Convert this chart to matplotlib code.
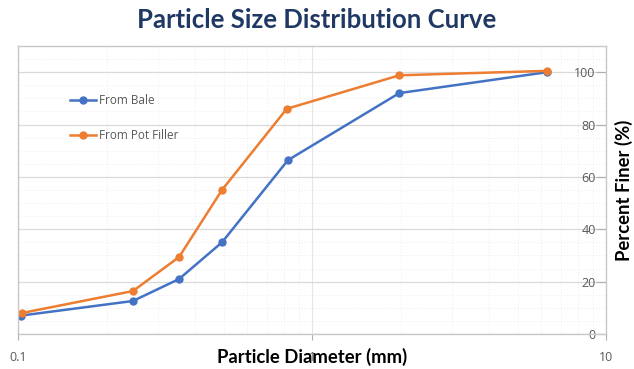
import numpy as np
import matplotlib.pyplot as plt
from matplotlib.ticker import FixedLocator, NullFormatter

# data
diam = [0.102, 0.246, 0.353, 0.494, 0.828, 1.98, 6.3]  # mm
bale = [7.0, 12.6, 21.0, 35.0, 66.4, 92.0, 100.0]
pot_diam = [0.103, 0.246, 0.353, 0.494, 0.82, 1.98, 6.3]
pot = [8.0, 16.4, 29.4, 55.0, 86.0, 98.8, 100.5]

x_ticks = [0.1, 1, 10]
x_labels = ["0.1", "1", "10"]
y_ticks = [0, 20, 40, 60, 80, 100]

blue = "#4472C4"
orange = "#ED7D31"
grey = "#595959"

fig = plt.figure(figsize=(6.34, 3.69), dpi=100)
ax = fig.add_axes([0.0284, 0.0949, 0.9276, 0.7805])

ax.plot(diam, bale, color=blue, lw=1.8, marker="o", ms=5, label="From Bale")
ax.plot(pot_diam, pot, color=orange, lw=1.8, marker="o", ms=5, label="From Pot Filler")

ax.set_xscale("log")
ax.set_xlim(0.1, 10)
ax.set_ylim(0, 110)

ax.set_xticks(x_ticks)
ax.set_xticklabels(x_labels)
ax.xaxis.set_minor_locator(FixedLocator([m * d for d in (0.1, 1) for m in range(2, 10)]))
ax.xaxis.set_minor_formatter(NullFormatter())

ax.yaxis.tick_right()
ax.yaxis.set_label_position("right")
ax.set_yticks(y_ticks)
ax.yaxis.set_minor_locator(FixedLocator(np.arange(5, 110, 5)))

ax.grid(True, which="major", axis="y", color="#d9d9d9", lw=0.9)
ax.grid(True, which="major", axis="x", color="#e6e6e6", lw=0.8)
ax.grid(True, which="minor", color="#ececec", lw=0.7, ls=(0, (1, 2)))

for s in ax.spines.values():
    s.set_color("#c8c8c8")
    s.set_linewidth(1.0)

# y tick labels sit inside the plot, just left of the right spine
ax.tick_params(axis="y", which="major", direction="in", length=7, color="#b0b0b0",
               labelsize=9, labelcolor=grey, pad=-7.5)
for lbl in ax.get_yticklabels():
    lbl.set_horizontalalignment("right")
ax.tick_params(axis="x", which="major", length=4, color="#b0b0b0",
               labelsize=9, labelcolor=grey, pad=8)
ax.tick_params(which="minor", length=0)
for lbl in ax.get_xticklabels() + ax.get_yticklabels():
    lbl.set_family(["Open Sans", "DejaVu Sans"])

ax.set_xlabel("Particle Diameter (mm)", fontsize=13.3, fontweight="bold",
              family=["Lato", "DejaVu Sans"], labelpad=-11)
ax.set_ylabel("Percent Finer (%)", fontsize=13.3, fontweight="bold",
              family=["Lato", "DejaVu Sans"], labelpad=3, rotation=90)

leg = ax.legend(loc="upper left", bbox_to_anchor=(0.07, 0.87), frameon=False,
                labelspacing=1.9, handlelength=2.2, handletextpad=0.3,
                prop={"family": ["Open Sans", "DejaVu Sans"], "size": 8.5})
for t in leg.get_texts():
    t.set_color(grey)

fig.text(0.5, 0.945, "Particle Size Distribution Curve", ha="center", va="center",
         fontsize=18.5, fontweight="bold", color="#1F3864", family=["Lato", "DejaVu Sans"])

fig.savefig("out.png", dpi=100)
